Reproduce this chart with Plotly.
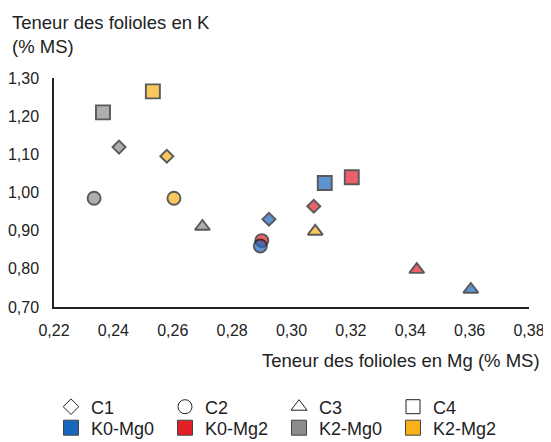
import plotly.graph_objects as go

# ---- data ----
cultivars = ["C1", "C2", "C3", "C4"]
groups = ["K0-Mg0", "K0-Mg2", "K2-Mg0", "K2-Mg2"]
mg_K0Mg0 = [0.2924, 0.2895, 0.3604, 0.3112]
k_K0Mg0 = [0.930, 0.860, 0.746, 1.025]
mg_K0Mg2 = [0.3075, 0.2900, 0.3422, 0.3203]
k_K0Mg2 = [0.964, 0.874, 0.798, 1.040]
mg_K2Mg0 = [0.2419, 0.2335, 0.2700, 0.2365]
k_K2Mg0 = [1.119, 0.985, 0.911, 1.210]
mg_K2Mg2 = [0.2580, 0.2604, 0.3080, 0.2533]
k_K2Mg2 = [1.095, 0.985, 0.898, 1.265]

x_ticks = [0.22, 0.24, 0.26, 0.28, 0.30, 0.32, 0.34, 0.36, 0.38]
y_ticks = [0.70, 0.80, 0.90, 1.00, 1.10, 1.20, 1.30]

# ---- styles ----
colors = {"K0-Mg0": "#1866bd", "K0-Mg2": "#e41f27", "K2-Mg0": "#8a8c8e", "K2-Mg2": "#f7b21a"}
symbols = {"C1": "diamond", "C2": "circle", "C3": "triangle-up", "C4": "square"}
sizes = {"C1": 10, "C2": 13, "C3": 13, "C4": 14}
edge = "#141414"
font = "Liberation Sans, Arial, Helvetica, sans-serif"

data = {
    "K0-Mg0": (mg_K0Mg0, k_K0Mg0),
    "K0-Mg2": (mg_K0Mg2, k_K0Mg2),
    "K2-Mg0": (mg_K2Mg0, k_K2Mg0),
    "K2-Mg2": (mg_K2Mg2, k_K2Mg2),
}

fig = go.Figure()

# data points (drawn gray, yellow, red, blue so blue sits on top)
for g in ["K2-Mg0", "K2-Mg2", "K0-Mg2", "K0-Mg0"]:
    xs, ys = data[g]
    fig.add_trace(go.Scatter(
        x=xs, y=ys, mode="markers", showlegend=False,
        marker=dict(
            symbol=[symbols[c] for c in cultivars],
            size=[sizes[c] for c in cultivars],
            color=colors[g],
            line=dict(color=edge, width=1.9),
        ),
        hovertext=[f"{c} {g}" for c in cultivars],
    ))

# legend row 1: cultivar shapes
for c in cultivars:
    fig.add_trace(go.Scatter(
        x=[None], y=[None], mode="markers", name=c, legend="legend",
        marker=dict(symbol=symbols[c], size=14 if c != "C1" else 12,
                    color="white", line=dict(color="#222", width=1)),
    ))
# legend row 2: treatment colours
for g in groups:
    fig.add_trace(go.Scatter(
        x=[None], y=[None], mode="markers", name=g, legend="legend2",
        marker=dict(symbol="square", size=15, color=colors[g],
                    line=dict(color="#444", width=1)),
    ))

OFF = 8  # page body margin
W, H = 543, 434
PL, PR, PT, PB = 46, 22, 70, 135
pw, ph = W - PL - PR, H - PT - PB

def px_x(px):
    return (px - OFF - PL) / pw

def px_y(py):
    return (H - PB - (py - OFF)) / ph

legend_common = dict(
    orientation="h", xanchor="left", yanchor="middle",
    font=dict(family=font, size=18, color="#222"),
    entrywidth=69, entrywidthmode="pixels",
    bgcolor="rgba(0,0,0,0)", borderwidth=0, itemsizing="trace",
    tracegroupgap=0,
)

fig.update_layout(
    width=W, height=H,
    margin=dict(l=PL, r=PR, t=PT, b=PB, autoexpand=False),
    paper_bgcolor="white", plot_bgcolor="white",
    separators=", ",
    font=dict(family=font, size=16, color="#222"),
    legend=dict(x=px_x(51), y=px_y(407), **legend_common),
    legend2=dict(x=px_x(51), y=px_y(428), **legend_common),
    xaxis=dict(
        range=[0.22, 0.38], tickvals=x_ticks, tickformat=".2f",
        showgrid=False, zeroline=False, showline=True, linecolor="#222", linewidth=1.5,
        ticks="", ticklabelstandoff=8,
        tickfont=dict(family=font, size=16, color="#222"),
    ),
    yaxis=dict(
        range=[0.70, 1.30], tickvals=y_ticks, tickformat=".2f",
        showgrid=False, zeroline=False, showline=True, linecolor="#222", linewidth=1.5,
        ticks="", ticklabelstandoff=10,
        tickfont=dict(family=font, size=16, color="#222"),
    ),
    annotations=[
        dict(text="Teneur des folioles en K<br>(% MS)", xref="paper", yref="paper",
             x=px_x(10), y=px_y(10), xanchor="left", yanchor="top", align="left",
             showarrow=False, font=dict(family=font, size=18.5, color="#222")),
        dict(text="Teneur des folioles en Mg (% MS)", xref="paper", yref="paper",
             x=px_x(542), y=px_y(360), xanchor="right", yanchor="middle",
             showarrow=False, font=dict(family=font, size=18.5, color="#222")),
    ],
)

fig.write_html("out.html")
